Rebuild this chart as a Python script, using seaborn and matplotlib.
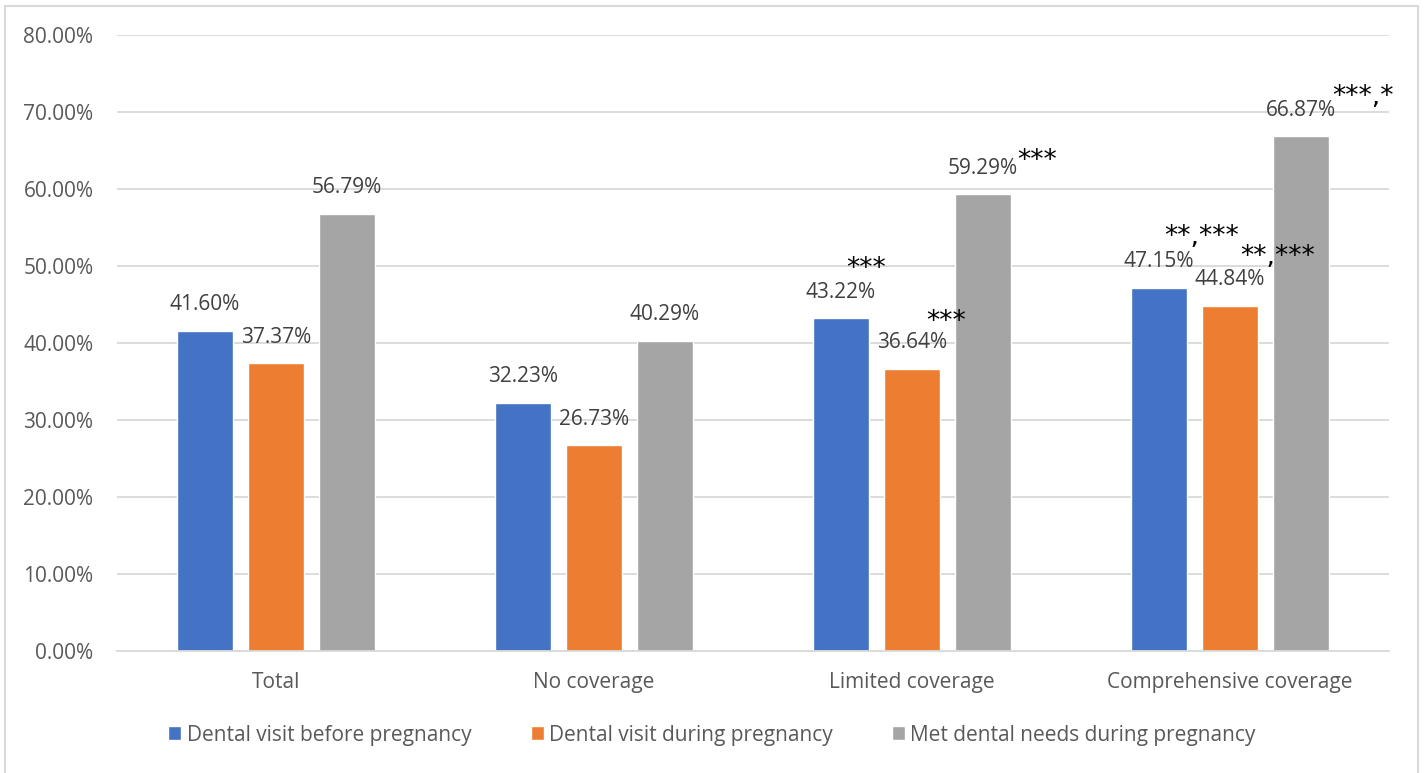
import matplotlib
matplotlib.use("Agg")
import matplotlib.pyplot as plt
from matplotlib.patches import Rectangle
from matplotlib.ticker import FuncFormatter, MultipleLocator
import pandas as pd
import seaborn as sns

# Survey results by dental coverage type
categories = ["Total", "No coverage", "Limited coverage", "Comprehensive coverage"]
series = ["Dental visit before pregnancy", "Dental visit during pregnancy",
          "Met dental needs during pregnancy"]
visit_before = [41.60, 32.23, 43.22, 47.15]
visit_during = [37.37, 26.73, 36.64, 44.84]
met_needs = [56.79, 40.29, 59.29, 66.87]
# significance markers per bar (same order as the value lists)
sig_before = ["", "", "***", "**,***"]
sig_during = ["", "", "***", "**,***"]
sig_needs = ["", "", "***", "***,*"]

colors = ["#4472C4", "#ED7D31", "#A5A5A5"]

df = pd.DataFrame({
    "category": categories * 3,
    "series": [series[0]] * 4 + [series[1]] * 4 + [series[2]] * 4,
    "value": visit_before + visit_during + met_needs,
})

sns.set_theme(style="white")
plt.rcParams["font.family"] = ["Open Sans", "DejaVu Sans"]

fig = plt.figure(figsize=(14.24, 7.73), dpi=100)
ax = fig.add_axes([117 / 1424, 1 - 651 / 773, (1389 - 117) / 1424, (651 - 35) / 773])

sns.barplot(data=df, x="category", y="value", hue="series", order=categories,
            hue_order=series, palette=colors, width=0.67, gap=0.21,
            saturation=1, ax=ax, legend=True)

ax.set_xlim(-0.5, 3.5)
ax.set_ylim(0, 80)
ax.yaxis.set_major_locator(MultipleLocator(10))
ax.yaxis.set_major_formatter(FuncFormatter(lambda v, _: f"{v:.2f}%"))
ax.grid(axis="y", color="#D9D9D9", linewidth=1.3)
ax.set_axisbelow(True)
for s in ["top", "right", "left"]:
    ax.spines[s].set_visible(False)
ax.spines["bottom"].set_color("#D9D9D9")
ax.spines["bottom"].set_linewidth(1.3)
ax.set_xlabel("")
ax.set_ylabel("")
ax.tick_params(axis="y", length=0, pad=17, labelsize=15, labelcolor="#595959")
ax.tick_params(axis="x", length=0, pad=15, labelsize=15, labelcolor="#595959")

PX = 0.72  # points per pixel at 100 dpi

# star placement relative to the top centre of each bar, in pixels (dx, dy up)
star_pos = {
    (0, 2): (25, 57), (1, 2): (34, 55), (2, 2): (54, 41),
    (0, 3): (43, 59), (1, 3): (48, 57), (2, 3): (62, 47),
}
sig_lists = [sig_before, sig_during, sig_needs]
for si, cont in enumerate(ax.containers):
    for bi, bar in enumerate(cont):
        val = bar.get_height()
        cx = bar.get_x() + bar.get_width() / 2
        ax.annotate(f"{val:.2f}%", (cx, val), xytext=(0, 26 * PX),
                    textcoords="offset points", ha="center", va="center",
                    fontsize=15, color="#404040")
        sig = sig_lists[si][bi]
        if sig:
            dx, dy = star_pos[(si, bi)]
            # baseline sits below the asterisk row centre
            ax.annotate(sig, (cx, val), xytext=(dx * PX, (dy - 15) * PX),
                        textcoords="offset points", ha="center", va="baseline",
                        fontsize=19, color="black", family="DejaVu Sans")

# legend below the plot
handles, labels = ax.get_legend_handles_labels()
ax.get_legend().remove()
leg = fig.legend(handles, labels, loc="center", bbox_to_anchor=(0.5, 1 - 735 / 773),
                 ncol=3, frameon=False, fontsize=15, handlelength=0.63,
                 handleheight=0.63, handletextpad=0.25, columnspacing=2.85)
for t in leg.get_texts():
    t.set_color("#595959")

# chart border
fig.patches.append(Rectangle((5 / 1424, -0.01), (1418 - 5) / 1424, 1.01 - 6 / 773,
                             transform=fig.transFigure, fill=False,
                             edgecolor="#D9D9D9", linewidth=1.5))

fig.savefig("out.png", dpi=100)
